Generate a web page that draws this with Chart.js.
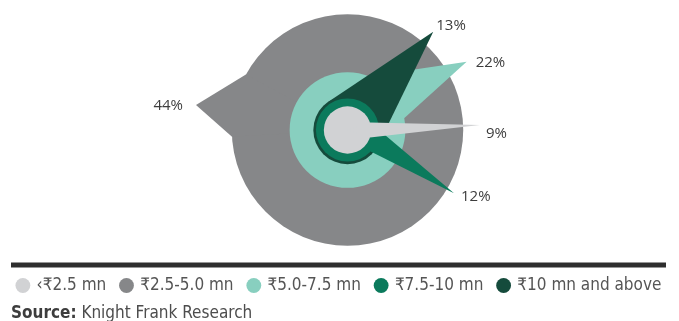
<!DOCTYPE html>
<html>
<head>
<meta charset="utf-8">
<script src="https://cdn.jsdelivr.net/npm/chart.js@4.4.1/dist/chart.umd.min.js"></script>
<style>
  html, body { margin: 0; padding: 0; background: #ffffff; }
  #wrap { position: relative; width: 679px; height: 321px; overflow: hidden; }
  #c { position: absolute; left: 0; top: 0; }
  #source { position: absolute; left: 11px; top: 302px; line-height: 20px;
            font-family: 'DejaVu Sans Condensed', 'Liberation Sans Narrow', Roboto, sans-serif;
            font-size: 17px; color: #4d4d4d; white-space: nowrap; }
  #source b { color: #3d3d3d; }
</style>
</head>
<body>
<div id="wrap">
  <canvas id="c" width="679" height="304"></canvas>
  <div id="source"><b>Source:</b> Knight Frank Research</div>
</div>
<script>
// ---------------- data ----------------
const categories  = ['‹₹2.5 mn', '₹2.5-5.0 mn', '₹5.0-7.5 mn', '₹7.5-10 mn', '₹10 mn and above'];
const shares      = [9, 44, 22, 12, 13];            // % of sales
const shareLabels = ['9%', '44%', '22%', '12%', '13%'];

// ---------------- styles / geometry ----------------
const colors = ['#d1d2d4', '#868789', '#88cfbf', '#0b7a5c', '#154b3c'];
// pointer direction (deg, counter-clockwise from east), tip distance (share units)
const pointerAngle  = [2.2, 170.6, 29.8, -30.7, 48.9];
const pointerLength = [50.4, 58.4, 52.2, 47.1, 49.6];
const pointerBase   = [[18.5, -18.5], [151.4, 183.4], [68, 11.8], [0, -42.7], [124, -26.2]];
// label offsets from the pointer tip (px) and alignment
const labelOffset = [[6, 9, 'left'], [-13, 1, 'right'], [9, 1, 'left'], [7, 3, 'left'], [3, -6, 'left']];

const K = 2.63;             // px per percentage point
const CX = 347.5, CY = 130; // rosette centre within the plot area (px)
const W = 679;
const LEGEND_FONT = 17, LEGEND_PAD = 15, BOX = 10.5;
const CANVAS_H = 304;
const PLOT_H = CANVAS_H - (LEGEND_FONT + LEGEND_PAD + 10);

const rad = d => d * Math.PI / 180;
const polar = (r, a) => ({ x: r * Math.cos(rad(a)), y: r * Math.sin(rad(a)) });

// drawing order: largest at the back
const stack = shares.map((v, i) => i).sort((a, b) => shares[b] - shares[a]);

function pxRadius(chart, v) {
  const s = chart.scales && chart.scales.x;
  let r = s ? Math.abs(s.getPixelForValue(v) - s.getPixelForValue(0)) : NaN;
  if (!isFinite(r) || r <= 0) r = v * K;
  return r;
}

const datasets = [];
stack.forEach(i => {
  datasets.push({
    type: 'bubble',
    label: categories[i],
    data: [{ x: 0, y: 0 }],
    backgroundColor: colors[i],
    borderWidth: 0,
    hoverBorderWidth: 0,
    clip: false,
    radius: (ctx) => pxRadius(ctx.chart, shares[i]),
    hoverRadius: 0
  });
  datasets.push({
    type: 'scatter',
    label: categories[i] + ' pointer',
    showLine: true,
    fill: 'shape',
    clip: false,
    data: [
      { x: 0, y: 0 },
      polar(shares[i], pointerBase[i][0]),
      polar(pointerLength[i], pointerAngle[i]),
      polar(shares[i], pointerBase[i][1]),
      { x: 0, y: 0 }
    ],
    backgroundColor: colors[i],
    borderColor: colors[i],
    borderWidth: 0,
    pointRadius: 0,
    pointHoverRadius: 0,
    tension: 0
  });
});
datasets.forEach((d, k) => { d.order = datasets.length - k; });

const tipLabels = {
  id: 'tipLabels',
  afterDatasetsDraw(chart) {
    const { ctx, scales: { x, y } } = chart;
    ctx.save();
    ctx.font = '15px "Open Sans", "Noto Sans", sans-serif';
    ctx.fillStyle = '#3d3d3d';
    ctx.textBaseline = 'middle';
    shares.forEach((v, i) => {
      const p = polar(pointerLength[i], pointerAngle[i]);
      const px = x.getPixelForValue(p.x), py = y.getPixelForValue(p.y);
      ctx.textAlign = labelOffset[i][2];
      ctx.fillText(shareLabels[i], px + labelOffset[i][0], py + labelOffset[i][1]);
    });
    ctx.restore();
  }
};

const rule = {
  id: 'rule',
  afterDraw(chart) {
    const { ctx, legend } = chart;
    ctx.save();
    ctx.fillStyle = '#2e2e2e';
    ctx.fillRect(11, legend.top + 0.5, 655, 5);
    ctx.restore();
  }
};

new Chart(document.getElementById('c'), {
  type: 'scatter',
  data: { datasets },
  options: {
    responsive: false,
    animation: false,
    events: [],
    layout: { padding: 0, autoPadding: false },
    scales: {
      x: { type: 'linear', display: false, bounds: 'data', min: -CX / K, max: (W - CX) / K },
      y: { type: 'linear', display: false, bounds: 'data', min: -(PLOT_H - CY) / K, max: CY / K }
    },
    plugins: {
      tooltip: { enabled: false },
      legend: {
        position: 'bottom',
        align: 'center',
        labels: {
          usePointStyle: true,
          pointStyle: 'circle',
          boxWidth: BOX,
          boxHeight: BOX,
          padding: LEGEND_PAD,
          color: '#555555',
          font: { family: "'DejaVu Sans Condensed', 'Liberation Sans Narrow', Roboto, sans-serif", size: LEGEND_FONT },
          generateLabels: () => categories.map((c, i) => ({
            text: c,
            fillStyle: colors[i],
            strokeStyle: colors[i],
            lineWidth: 0,
            pointStyle: 'circle',
            hidden: false,
            fontColor: '#555555',
            datasetIndex: i
          }))
        }
      }
    }
  },
  plugins: [tipLabels, rule]
});
</script>
</body>
</html>
